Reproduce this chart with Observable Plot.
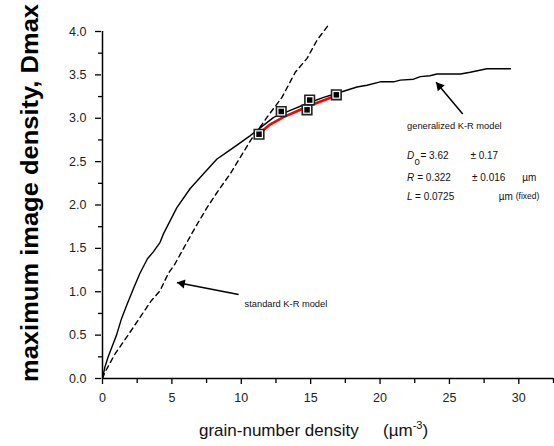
<!DOCTYPE html>
<html><head><meta charset="utf-8">
<script src="https://cdn.jsdelivr.net/npm/d3@7"></script>
<script src="https://cdn.jsdelivr.net/npm/@observablehq/plot@0.6"></script>
<style>body{margin:0;background:#fff} #chart svg{display:block}</style>
</head><body><div id="chart"></div>
<script>
// generalized K-R model (solid)
const solidX = [0, 0.17, 0.41, 0.77, 1.01, 1.37, 1.73, 2.21, 2.69, 3.24, 3.66, 4.15, 4.40, 5.36, 6.32, 7.28, 8.25, 8.97, 9.69, 10.65, 11.13, 12.33, 13.53, 14.74, 15.93, 17.14, 18.34, 19.06, 20.02, 20.98, 21.46, 22.42, 22.9, 23.6, 24.1, 25.8, 26.5, 27.7, 29.4];
const solidY = [0, 0.13, 0.25, 0.40, 0.50, 0.69, 0.84, 1.03, 1.21, 1.38, 1.46, 1.57, 1.67, 1.97, 2.19, 2.36, 2.53, 2.61, 2.69, 2.80, 2.86, 3.01, 3.09, 3.17, 3.24, 3.30, 3.36, 3.38, 3.42, 3.42, 3.44, 3.45, 3.48, 3.49, 3.51, 3.51, 3.53, 3.57, 3.57];
// standard K-R model (dashed)
const dashX = [0, 0.17, 0.89, 1.97, 2.81, 3.53, 4.14, 4.74, 5.22, 5.84, 6.68, 7.53, 8.36, 9.21, 9.93, 10.65, 11.85, 12.93, 13.89, 14.74, 15.46, 16.35];
const dashY = [0, 0.07, 0.28, 0.53, 0.73, 0.90, 1.01, 1.21, 1.32, 1.50, 1.74, 1.97, 2.17, 2.36, 2.55, 2.74, 3.01, 3.24, 3.53, 3.69, 3.90, 4.09];
// red fit
const fitX = [11.2, 12.0, 13.0, 14.0, 15.0, 16.0, 16.8];
const fitY = [2.81, 2.92, 3.01, 3.08, 3.15, 3.21, 3.26];
// measured points
const pointX = [11.28, 12.88, 14.74, 14.93, 16.85];
const pointY = [2.816, 3.078, 3.097, 3.21, 3.27];
// ticks
const xTicks = [0, 5, 10, 15, 20, 25, 30];
const xMinor = [2.5, 7.5, 12.5, 17.5, 22.5, 27.5, 32.5];
const yTicks = [0, 0.5, 1, 1.5, 2, 2.5, 3, 3.5, 4];
const yMinor = [0.25, 0.75, 1.25, 1.75, 2.25, 2.75, 3.25, 3.75];
// annotations
const arrowX1 = [25.96, 9.81];
const arrowY1 = [3.05, 0.968];
const arrowX2 = [24.04, 5.36];
const arrowY2 = [3.415, 1.107];
const labelText = ["generalized K-R model", "standard K-R model"];
const labelX = [21.95, 10.24];
const labelY = [2.905, 0.853];
const noteText = ["= 3.62", "± 0.17", "= 0.322", "± 0.016", "µm", "= 0.0725", "µm"];
const noteX = [22.91, 26.51, 22.68, 26.63, 30.24, 22.52, 28.55];
const noteY = [2.571, 2.571, 2.314, 2.314, 2.314, 2.098, 2.098];
const smallText = ["(fixed)"];
const smallX = [29.78];
const smallY = [2.098];
const symText = ["D", "R", "L"];
const symX = [21.95, 21.95, 21.95];
const symY = [2.571, 2.314, 2.098];
const subText = ["0"];
const subX = [22.48];
const subY = [2.50];

const W = 554, H = 446, ML = 102, MR = 1, MT = 31, MB = 68;
const X0 = 0, X1 = 32.5, Y0 = 0, Y1 = 4;
const kx = (W - ML - MR) / (X1 - X0), ky = (H - MT - MB) / (Y1 - Y0);
const FONT = "Liberation Sans, Arial, Helvetica, sans-serif";

const idx = (a) => d3.range(a.length);
const arrows = idx(arrowX1);
const TR = 3.4; // triangle radius
const heads = arrows.map(i => {
  const dx = (arrowX2[i] - arrowX1[i]) * kx, dy = -(arrowY2[i] - arrowY1[i]) * ky;
  const L = Math.hypot(dx, dy), ux = dx / L, uy = dy / L;
  const ang = Math.atan2(ux, -uy) * 180 / Math.PI;
  const off = 1.555 * TR;
  return Plot.dot([i], {x: j => arrowX2[j], y: j => arrowY2[j], symbol: "triangle", r: TR, fill: "black",
    rotate: ang, dx: -ux * off, dy: -uy * off});
});

const plot = Plot.plot({
  width: W, height: H, marginLeft: ML, marginRight: MR, marginTop: MT, marginBottom: MB,
  style: {fontFamily: FONT, background: "white"},
  x: {domain: [X0, X1]},
  y: {domain: [Y0, Y1]},
  marks: [
    Plot.axisX({ticks: xTicks, tickSize: 6, tickPadding: 9, fontSize: 12.5, label: null, strokeWidth: 1.3, fill: "#222"}),
    Plot.axisX({ticks: xMinor, tickSize: 5, text: null, label: null, strokeWidth: 1.3}),
    Plot.axisY({ticks: yTicks, tickSize: 6, tickPadding: 9, fontSize: 12.5, label: null, tickFormat: d3.format(".1f"), strokeWidth: 1.3, fill: "#222", dx: -1}),
    Plot.axisY({ticks: yMinor, tickSize: 4, text: null, label: null, strokeWidth: 1.3}),
    Plot.ruleX([0], {strokeWidth: 1.5}),
    Plot.ruleY([0], {strokeWidth: 1.5}),
    Plot.line(idx(dashX), {x: i => dashX[i], y: i => dashY[i], stroke: "black", strokeWidth: 1.4, strokeDasharray: "5,4"}),
    Plot.line(idx(fitX), {x: i => fitX[i], y: i => fitY[i], stroke: "#ff0000", strokeWidth: 2.6}),
    Plot.line(idx(solidX), {x: i => solidX[i], y: i => solidY[i], stroke: "black", strokeWidth: 1.4}),
    Plot.dot(idx(pointX), {x: i => pointX[i], y: i => pointY[i], symbol: "square", r: 5.4, fill: "white", stroke: "#222", strokeWidth: 1.6}),
    Plot.dot(idx(pointX), {x: i => pointX[i], y: i => pointY[i], symbol: "square", r: 3.1, fill: "black"}),
    Plot.link(arrows, {x1: i => arrowX1[i], y1: i => arrowY1[i], x2: i => arrowX2[i], y2: i => arrowY2[i], stroke: "black", strokeWidth: 1.5}),
    ...heads,
    Plot.text(idx(labelText), {x: i => labelX[i], y: i => labelY[i], text: i => labelText[i], textAnchor: "start", fontSize: 9.3, fill: "#111"}),
    Plot.text(idx(noteText), {x: i => noteX[i], y: i => noteY[i], text: i => noteText[i], textAnchor: "start", fontSize: 10, fill: "#111"}),
    Plot.text(idx(smallText), {x: i => smallX[i], y: i => smallY[i], text: i => smallText[i], textAnchor: "start", fontSize: 8.5, fill: "#111"}),
    Plot.text(idx(symText), {x: i => symX[i], y: i => symY[i], text: i => symText[i], textAnchor: "start", fontSize: 10, fontStyle: "italic", fill: "#111"}),
    Plot.text(idx(subText), {x: i => subX[i], y: i => subY[i], text: i => subText[i], textAnchor: "start", fontSize: 9.5, fill: "#111"})
  ]
});

const svg = d3.select(plot);
svg.append("text")
  .attr("transform", "translate(38,193) rotate(-90)")
  .attr("text-anchor", "middle")
  .attr("font-family", FONT).attr("font-weight", "bold").attr("font-size", 24)
  .attr("textLength", 378).attr("lengthAdjust", "spacingAndGlyphs")
  .attr("fill", "black")
  .text("maximum image density, Dmax");
const xl = svg.append("text")
  .attr("x", 199).attr("y", 436).attr("text-anchor", "start")
  .attr("font-family", FONT).attr("font-size", 17).attr("fill", "#111");
xl.append("tspan").text("grain-number density");
xl.append("tspan").attr("x", 383).text("(µm");
xl.append("tspan").attr("font-size", 11).attr("dy", -7).text("-3");
xl.append("tspan").attr("dy", 7).text(")");
document.getElementById("chart").appendChild(plot);
</script>
</body></html>
